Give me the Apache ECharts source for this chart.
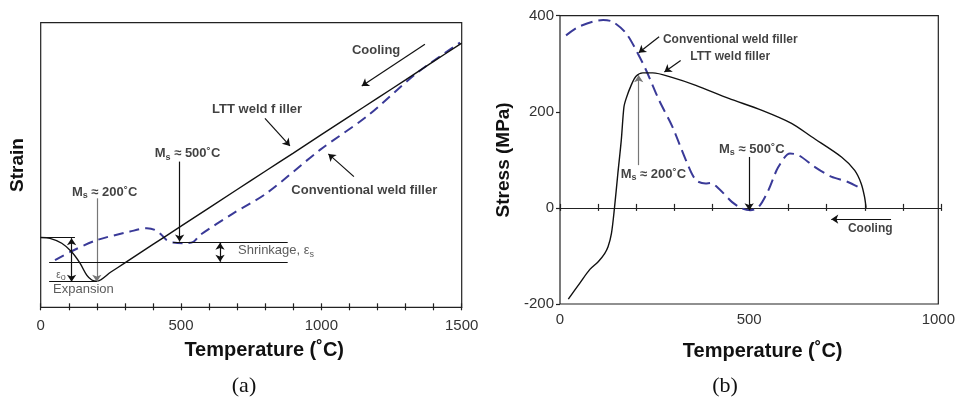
<!DOCTYPE html>
<html>
<head>
<meta charset="utf-8">
<script src="https://cdn.jsdelivr.net/npm/echarts@6/dist/echarts.min.js"></script>
<style>
  html, body { margin: 0; padding: 0; background: #fff; }
  #chart { width: 958px; height: 401px; }
</style>
</head>
<body>
<div id="chart"></div>
<script>
// ---- panel (a): strain vs temperature (strain in arbitrary units, 0..100 = box height)
const aLttTemp    = [0, 33, 75, 110, 140, 164, 182, 200, 250, 300, 400, 500, 700, 800, 900, 1100, 1200, 1300, 1400, 1500];
const aLttStrain  = [24.5, 24.2, 22.5, 19.5, 15.5, 11.3, 9.6, 9.2, 12.4, 15.6, 22.1, 28.5, 41.4, 47.8, 54.2, 67.1, 73.5, 79.9, 86.4, 92.8];
const aConvTemp   = [51, 110, 200, 318, 378, 407, 431, 449, 472, 508, 544, 568, 686, 805, 995, 1161, 1339, 1494];
const aConvStrain = [16.6, 19.7, 23.6, 26.6, 27.8, 27.2, 25.4, 23.6, 22.8, 22.5, 23.0, 25.4, 33.0, 40.1, 55.3, 67.0, 82.2, 93.0];
const aTempTicks  = [0, 500, 1000, 1500];

// ---- panel (b): stress (MPa) vs temperature
const bLttTemp    = [22, 52, 79, 101, 118, 127, 136, 144, 153, 162, 169, 175, 188, 201, 219, 245, 298, 359, 446, 534, 612, 665, 744, 779, 796, 805, 809];
const bLttStress  = [-190, -157, -128, -112, -95, -81, -53, 0, 72, 141, 210, 228, 255, 274, 281, 281, 271, 255, 228, 203, 176, 148, 106, 78, 51, 23, 0];
const bConvTemp   = [16, 52, 114, 140, 175, 206, 228, 262, 297, 333, 359, 385, 398, 420, 455, 481, 503, 525, 551, 577, 608, 630, 674, 717, 761, 796];
const bConvStress = [359, 378, 391, 387, 363, 321, 286, 224, 169, 99, 58, 51, 52, 40, 12, -1, -5, 2, 37, 85, 113, 110, 85, 65, 54, 40];
const bStressTicks = [-200, 0, 200, 400];
const bTempTicks   = [0, 500, 1000];

const FONT = '"Liberation Sans", Arial, sans-serif';
const BLUE = '#3a3a98';
const INK = '#111';

const chart = echarts.init(document.getElementById('chart'));

function pairs(xs, ys) { return xs.map((x, i) => [x, ys[i]]); }

// one markLine item; ends: 'none' | 'arrow'
function seg(from, to, startSym, endSym, color) {
  const ls = { color: color || INK, width: 1.2, type: 'solid' };
  return [
    { coord: from, symbol: startSym || 'none', lineStyle: ls },
    { coord: to, symbol: endSym || 'none', lineStyle: ls }
  ];
}

const msRich = {
  m: { fontFamily: FONT, fontWeight: 'bold', fontSize: 13, color: INK, lineHeight: 16 },
  s: { fontFamily: FONT, fontWeight: 'bold', fontSize: 9, color: INK, lineHeight: 10, verticalAlign: 'bottom' },
  n: { fontFamily: FONT, fontWeight: 'normal', fontSize: 13, color: '#333', lineHeight: 16 },
  e: { fontFamily: FONT, fontWeight: 'normal', fontSize: 9, color: '#333', lineHeight: 10, verticalAlign: 'bottom' },
  t: { fontFamily: FONT, fontWeight: 'normal', fontSize: 10, color: '#333', lineHeight: 14 }
};

function note(x, y, text, align, size) {
  return {
    value: [x, y],
    label: {
      show: true, position: 'inside', align: align || 'center',
      formatter: text, rich: msRich,
      fontFamily: FONT, fontWeight: 'bold', fontSize: size || 13, color: INK
    }
  };
}

const aNotes = [
  note(1195, 90.4, 'Cooling'),
  note(771, 69.7, 'LTT weld f iller'),
  note(1153, 41.0, 'Conventional weld filler'),
  note(523, 53.9, '{m|M}{s|s}{m| ≈ 500˚C}'),
  note(228, 40.4, '{m|M}{s|s}{m| ≈ 200˚C}'),
  note(703, 19.9, '{n|Shrinkage, ε}{e|s}', 'left'),
  note(72, 11.2, '{t|ε}{e|o}'),
  note(44, 6.3, '{n|Expansion}', 'left')
];

const bNotes = [
  note(450, 351, 'Conventional weld filler', 'center', 12),
  note(450, 314, 'LTT weld filler', 'center', 12),
  note(247, 69.5, '{m|M}{s|s}{m| ≈ 200˚C}'),
  note(507, 122, '{m|M}{s|s}{m| ≈ 500˚C}'),
  note(820, -44, 'Cooling', 'center', 12)
];

const aMarks = [
  seg([1369, 92.4], [1144, 77.8], 'none', 'arrow'),
  seg([799, 66.4], [888, 56.7], 'none', 'arrow'),
  seg([1116, 45.9], [1025, 53.9], 'none', 'arrow'),
  seg([495, 51.2], [495, 23.1], 'none', 'arrow'),
  seg([200, 38.3], [200, 9.0], 'none', 'arrow', '#777'),
  seg([110, 24.3], [110, 9.0], 'arrow', 'arrow'),
  seg([639, 22.7], [639, 16.0], 'arrow', 'arrow'),
  seg([0, 24.5], [122, 24.5]),
  seg([30, 16.0], [880, 16.0]),
  seg([472, 22.7], [880, 22.7]),
  seg([30, 9.0], [200, 9.0])
];

const bMarks = [
  seg([262, 356], [208, 323], 'none', 'arrow'),
  seg([319, 307], [276, 283], 'none', 'arrow'),
  seg([208, 89], [208, 276], 'none', 'arrow', '#777'),
  seg([500, 106], [500, -5], 'none', 'arrow'),
  seg([875, -23.5], [717, -23.5], 'none', 'arrow')
];

const rectA = { left: 40.7, top: 22.7, width: 421, height: 284.6 };
const rectB = { left: 560, top: 15.7, width: 381, height: 288.3 };

const hiddenY = (min, max, grid) => ({ type: 'value', gridIndex: grid, min: min, max: max, show: false });

const option = {
  animation: false,
  backgroundColor: '#fff',
  textStyle: { fontFamily: FONT },
  grid: [
    Object.assign({ show: true, borderColor: '#222', borderWidth: 1.2 }, rectA),
    Object.assign({}, rectA),
    Object.assign({ show: true, borderColor: '#222', borderWidth: 1.2 }, rectB),
    Object.assign({}, rectB),
    Object.assign({}, rectB)
  ],
  xAxis: [
    {
      type: 'value', gridIndex: 0, min: 0, max: 1500, interval: 100,
      name: 'Temperature (˚C)', nameLocation: 'middle', nameGap: 33,
      nameTextStyle: { fontFamily: FONT, fontWeight: 'bold', fontSize: 20, color: INK, padding: [0, 0, 0, 26] },
      axisLine: { show: true, onZero: false, lineStyle: { color: '#222', width: 1.2 } },
      axisTick: { show: true, inside: true, length: 4, lineStyle: { color: '#222', width: 1.2 } },
      axisLabel: {
        margin: 11, fontSize: 15, color: '#333', fontFamily: FONT,
        formatter: v => (aTempTicks.indexOf(v) >= 0 ? String(v) : '')
      },
      splitLine: { show: false }
    },
    {
      type: 'value', gridIndex: 1, min: 0, max: 1500, interval: 100,
      axisLine: { show: false, onZero: false },
      axisTick: { show: true, inside: false, length: 3, lineStyle: { color: '#222', width: 1.2 } },
      axisLabel: { show: false }, splitLine: { show: false }
    },
    {
      type: 'value', gridIndex: 2, min: 0, max: 1000, interval: 500,
      name: 'Temperature (˚C)', nameLocation: 'middle', nameGap: 37,
      nameTextStyle: { fontFamily: FONT, fontWeight: 'bold', fontSize: 20, color: INK, padding: [0, 0, 0, 27] },
      axisLine: { show: false, onZero: false },
      axisTick: { show: false },
      axisLabel: {
        margin: 8, fontSize: 15, color: '#333', fontFamily: FONT,
        formatter: v => (bTempTicks.indexOf(v) >= 0 ? String(v) : '')
      },
      splitLine: { show: false }
    },
    {
      type: 'value', gridIndex: 3, min: 0, max: 1000, interval: 100,
      axisLine: { show: true, onZero: true, lineStyle: { color: '#222', width: 1.2 } },
      axisTick: { show: true, inside: true, length: 4, lineStyle: { color: '#222', width: 1.2 } },
      axisLabel: { show: false }, splitLine: { show: false }
    },
    {
      type: 'value', gridIndex: 4, min: 0, max: 1000, interval: 100,
      axisLine: { show: false, onZero: true },
      axisTick: { show: true, inside: false, length: 3, lineStyle: { color: '#222', width: 1.2 } },
      axisLabel: { show: false }, splitLine: { show: false }
    }
  ],
  yAxis: [
    {
      type: 'value', gridIndex: 0, min: 0, max: 100,
      name: 'Strain', nameLocation: 'middle', nameGap: 13,
      nameTextStyle: { fontFamily: FONT, fontWeight: 'bold', fontSize: 19, color: INK },
      axisLine: { show: false }, axisTick: { show: false },
      axisLabel: { show: false }, splitLine: { show: false }
    },
    hiddenY(0, 100, 1),
    {
      type: 'value', gridIndex: 2, min: -200, max: 400, interval: 200,
      name: 'Stress (MPa)', nameLocation: 'middle', nameGap: 47,
      nameTextStyle: { fontFamily: FONT, fontWeight: 'bold', fontSize: 19, color: INK },
      axisLine: { show: false },
      axisTick: { show: true, inside: false, length: 4, lineStyle: { color: '#222', width: 1.2 } },
      axisLabel: {
        margin: 6, fontSize: 15, color: '#333', fontFamily: FONT,
        formatter: v => (bStressTicks.indexOf(v) >= 0 ? String(v) : '')
      },
      splitLine: { show: false }
    },
    hiddenY(-200, 400, 3),
    hiddenY(-200, 400, 4)
  ],
  graphic: [
    { type: 'text', x: 244, y: 386, style: { text: '(a)', font: '22px "Liberation Serif", "Times New Roman", serif', fill: INK, align: 'center', verticalAlign: 'middle' } },
    { type: 'text', x: 725, y: 386, style: { text: '(b)', font: '22px "Liberation Serif", "Times New Roman", serif', fill: INK, align: 'center', verticalAlign: 'middle' } }
  ],
  series: [
    {
      name: 'LTT weld filler (a)', type: 'line', xAxisIndex: 0, yAxisIndex: 0,
      data: pairs(aLttTemp, aLttStrain), smooth: 0.3,
      showSymbol: false, silent: true, z: 3,
      lineStyle: { color: INK, width: 1.4 },
      markLine: { silent: true, symbolSize: 7, label: { show: false }, data: aMarks }
    },
    {
      name: 'Conventional weld filler (a)', type: 'line', xAxisIndex: 0, yAxisIndex: 0,
      data: pairs(aConvTemp, aConvStrain), smooth: 0.3,
      showSymbol: false, silent: true, z: 2,
      lineStyle: { color: BLUE, width: 2, type: [10, 6] }
    },
    {
      name: 'notes (a)', type: 'scatter', xAxisIndex: 0, yAxisIndex: 0,
      symbolSize: 0, silent: true, z: 5, data: aNotes
    },
    {
      name: 'LTT weld filler (b)', type: 'line', xAxisIndex: 2, yAxisIndex: 2,
      data: pairs(bLttTemp, bLttStress), smooth: 0.3,
      showSymbol: false, silent: true, z: 3,
      lineStyle: { color: INK, width: 1.4 },
      markLine: { silent: true, symbolSize: 7, label: { show: false }, data: bMarks }
    },
    {
      name: 'Conventional weld filler (b)', type: 'line', xAxisIndex: 2, yAxisIndex: 2,
      data: pairs(bConvTemp, bConvStress), smooth: 0.3,
      showSymbol: false, silent: true, z: 2,
      lineStyle: { color: BLUE, width: 2, type: [12, 6] }
    },
    {
      name: 'notes (b)', type: 'scatter', xAxisIndex: 2, yAxisIndex: 2,
      symbolSize: 0, silent: true, z: 5, data: bNotes
    }
  ]
};

chart.setOption(option);
</script>
</body>
</html>
